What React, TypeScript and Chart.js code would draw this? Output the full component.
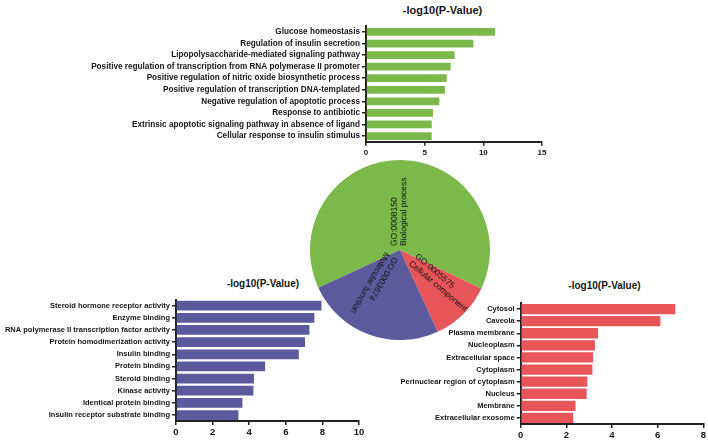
import React, { useEffect, useRef } from "react";
import { Chart, registerables } from "chart.js";

Chart.register(...registerables);

// ---------- DATA ----------
const bpLabels = [
  "Glucose homeostasis",
  "Regulation of insulin secretion",
  "Lipopolysaccharide-mediated signaling pathway",
  "Positive regulation of transcription from RNA polymerase II promoter",
  "Positive regulation of nitric oxide biosynthetic process",
  "Positive regulation of transcription DNA-templated",
  "Negative regulation of apoptotic process",
  "Response to antibiotic",
  "Extrinsic apoptotic signaling pathway in absence of ligand",
  "Cellular response to insulin stimulus",
];
const bpValues = [11.0, 9.15, 7.55, 7.22, 6.88, 6.73, 6.25, 5.71, 5.6, 5.6];

const mfLabels = [
  "Steroid hormone receptor activity",
  "Enzyme binding",
  "RNA polymerase II transcription factor activity",
  "Protein homodimerization activity",
  "Insulin binding",
  "Protein binding",
  "Steroid binding",
  "Kinase activity",
  "Identical protein binding",
  "Insulin receptor substrate binding",
];
const mfValues = [7.95, 7.56, 7.29, 7.05, 6.71, 4.87, 4.26, 4.23, 3.63, 3.41];

const ccLabels = [
  "Cytosol",
  "Caveola",
  "Plasma membrane",
  "Nucleoplasm",
  "Extracellular space",
  "Cytoplasm",
  "Perinuclear region of cytoplasm",
  "Nucleus",
  "Membrane",
  "Extracellular exosome",
];
const ccValues = [6.77, 6.12, 3.39, 3.25, 3.17, 3.14, 2.92, 2.89, 2.4, 2.3];

const goIds = ["GO:0008150", "GO:0005575", "GO:0003674"];
const goNames = ["Biological process", "Cellular component", "Molecular function"];
const goShares = [63.9, 11.1, 25.0];

const axisTitle = "-log10(P-Value)";

// ---------- STYLE ----------
const GREEN = "#7AB94A";
const PURPLE = "#5C5A9C";
const RED = "#E8565A";
const FONT = "'Liberation Sans', Arial, Helvetica, sans-serif";
const INK = "#151515";

const labelStart = [4, 16, 9];
const labelShift = [-1, -1.5, 5];
const labelAngleTweak = [0, -5, 10];

function barOptions(
  max: number,
  step: number,
  yWidth: number,
  xHeight: number,
  padding: any,
  labelSize: number,
  tickSize: number
) {
  return {
    indexAxis: "y" as const,
    animation: false as const,
    responsive: false,
    maintainAspectRatio: false,
    layout: { padding },
    plugins: { legend: { display: false }, tooltip: { enabled: false }, title: { display: false } },
    scales: {
      x: {
        min: 0,
        max,
        ticks: { stepSize: step, color: INK, padding: 2, font: { family: FONT, size: tickSize, weight: "bold" as const } },
        grid: { drawOnChartArea: false, drawTicks: true, tickLength: 4, color: "#222", lineWidth: 1.5 },
        border: { display: true, color: "#222", width: 2 },
        afterFit: (s: any) => {
          s.height = xHeight;
        },
      },
      y: {
        ticks: { autoSkip: false, color: INK, padding: 2, font: { family: FONT, size: labelSize, weight: "bold" as const } },
        grid: { offset: false, drawOnChartArea: false, drawTicks: true, tickLength: 4, color: "#222", lineWidth: 1.5 },
        border: { display: true, color: "#222", width: 2 },
        afterFit: (s: any) => {
          s.width = yWidth;
        },
      },
    },
  };
}

function BarChart(props: {
  labels: string[];
  values: number[];
  color: string;
  max: number;
  step: number;
  left: number;
  top: number;
  width: number;
  height: number;
  yWidth: number;
  xHeight: number;
  padding: any;
  barPct: number;
  labelSize: number;
  tickSize: number;
}) {
  const ref = useRef<HTMLCanvasElement | null>(null);
  useEffect(() => {
    if (!ref.current) return;
    const chart = new Chart(ref.current, {
      type: "bar",
      data: {
        labels: props.labels,
        datasets: [
          {
            data: props.values,
            backgroundColor: props.color,
            borderWidth: 0,
            categoryPercentage: 1,
            barPercentage: props.barPct,
          },
        ],
      },
      options: barOptions(
        props.max,
        props.step,
        props.yWidth,
        props.xHeight,
        props.padding,
        props.labelSize,
        props.tickSize
      ) as any,
    });
    return () => chart.destroy();
  }, []);
  return (
    <canvas
      ref={ref}
      width={props.width}
      height={props.height}
      style={{ position: "absolute", left: props.left, top: props.top, width: props.width, height: props.height }}
    />
  );
}

const pieLabelPlugin = {
  id: "pieLabels",
  afterDatasetsDraw(chart: any) {
    const ctx = chart.ctx;
    const meta = chart.getDatasetMeta(0);
    ctx.save();
    ctx.font = `8.5px ${FONT}`;
    ctx.fillStyle = "#111";
    ctx.textAlign = "left";
    ctx.textBaseline = "middle";
    const gap = 9.5;
    meta.data.forEach((arc: any, i: number) => {
      const mid = (arc.startAngle + arc.endAngle) / 2 + (labelAngleTweak[i] * Math.PI) / 180;
      ctx.save();
      ctx.translate(arc.x, arc.y);
      ctx.rotate(mid);
      ctx.fillText(goIds[i], labelStart[i], labelShift[i] - gap / 2);
      ctx.fillText(goNames[i], labelStart[i], labelShift[i] + gap / 2);
      ctx.restore();
    });
    ctx.restore();
  },
};

function PieChart() {
  const ref = useRef<HTMLCanvasElement | null>(null);
  useEffect(() => {
    if (!ref.current) return;
    const chart = new Chart(ref.current, {
      type: "pie",
      data: {
        labels: goNames,
        datasets: [
          {
            data: goShares,
            backgroundColor: [GREEN, RED, PURPLE],
            borderWidth: 0,
          },
        ],
      },
      options: {
        animation: false,
        responsive: false,
        maintainAspectRatio: false,
        rotation: 245.2,
        layout: { padding: 0 },
        plugins: { legend: { display: false }, tooltip: { enabled: false } },
      } as any,
      plugins: [pieLabelPlugin],
    });
    return () => chart.destroy();
  }, []);
  return (
    <canvas
      ref={ref}
      width={180}
      height={180}
      style={{ position: "absolute", left: 310, top: 160, width: 180, height: 180 }}
    />
  );
}

function Title(props: { cx: number; cy: number; size: number }) {
  return (
    <div
      style={{
        position: "absolute",
        left: props.cx - 70,
        top: props.cy - 7,
        width: 140,
        height: 14,
        lineHeight: "14px",
        textAlign: "center",
        fontFamily: FONT,
        fontWeight: "bold",
        fontSize: props.size,
        color: INK,
        whiteSpace: "nowrap",
      }}
    >
      {axisTitle}
    </div>
  );
}

export default function App() {
  return (
    <div
      style={{
        position: "absolute",
        left: 0,
        top: 0,
        width: 708,
        height: 440,
        background: "#ffffff",
        overflow: "hidden",
      }}
    >
      <Title cx={442.5} cy={10} size={11} />
      <Title cx={263} cy={284} size={10} />
      <Title cx={604.5} cy={286} size={10} />
      <BarChart
        labels={bpLabels}
        values={bpValues}
        color={GREEN}
        max={15}
        step={5}
        left={60}
        top={15}
        width={500}
        height={150}
        yWidth={306}
        xHeight={23.2}
        padding={{ left: 0, right: 18, top: 11.2, bottom: 0 }}
        barPct={0.67}
        labelSize={8.2}
        tickSize={8}
      />
      <BarChart
        labels={mfLabels}
        values={mfValues}
        color={PURPLE}
        max={10}
        step={2}
        left={0}
        top={290}
        width={375}
        height={150}
        yWidth={176}
        xHeight={18.9}
        padding={{ left: 0, right: 16, top: 9.6, bottom: 0 }}
        barPct={0.8}
        labelSize={7.5}
        tickSize={9.5}
      />
      <BarChart
        labels={ccLabels}
        values={ccValues}
        color={RED}
        max={8}
        step={2}
        left={380}
        top={290}
        width={328}
        height={150}
        yWidth={140.7}
        xHeight={16}
        padding={{ left: 0, right: 4.7, top: 13, bottom: 0 }}
        barPct={0.85}
        labelSize={7.5}
        tickSize={9.5}
      />
      <PieChart />
    </div>
  );
}
